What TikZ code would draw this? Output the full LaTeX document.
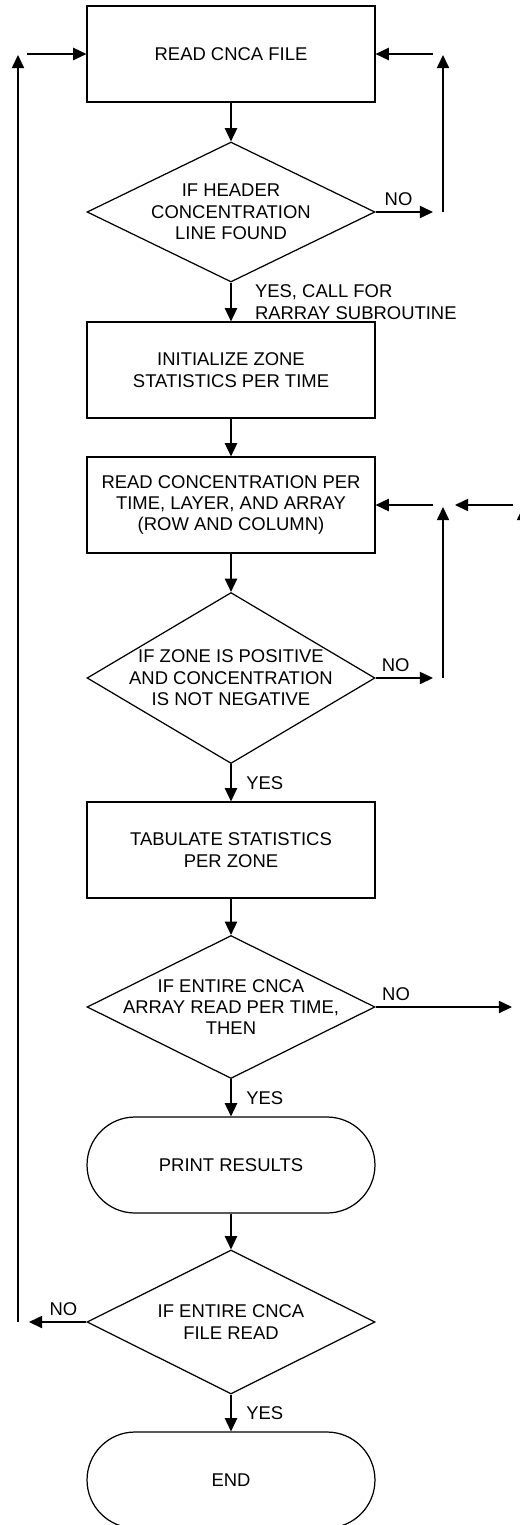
\documentclass[tikz,border=0pt]{standalone}
\usepackage{fontspec}
\setmainfont{Liberation Sans}
\usetikzlibrary{arrows.meta}
\usetikzlibrary{shapes.geometric}

\begin{document}
\begin{tikzpicture}[x=0.02cm,y=-0.02cm,line width=0.7pt,
  >={Triangle[length=7.5pt,width=7pt]},
  every node/.style={font=\fontsize{10.5}{12.2}\selectfont,align=center},
  procbox/.style={draw,rectangle,minimum width=5.76cm,minimum height=1.92cm,inner sep=0pt},
  termbox/.style={procbox,rounded corners=0.96cm},
  decision/.style={draw,diamond,minimum width=5.76cm,inner sep=0pt}]
\useasboundingbox (0,0) rectangle (520,1525);
\clip (0,0) rectangle (520,1525);

\node[procbox] (readfile) at (231,54) {READ CNCA FILE};
\node[decision,minimum height=2.8cm,label={center:{IF HEADER\\CONCENTRATION\\LINE FOUND}}] (header) at (231,212) {};
\node[procbox] (init) at (231,370) {INITIALIZE ZONE\\STATISTICS PER TIME};
\node[procbox] (readconc) at (231,505) {READ CONCENTRATION PER\\TIME, LAYER, AND ARRAY\\(ROW AND COLUMN)};
\node[decision,minimum height=3.42cm,label={center:{IF ZONE IS POSITIVE\\AND CONCENTRATION\\IS NOT NEGATIVE}}] (zone) at (231,678) {};
\node[procbox] (tabulate) at (231,850) {TABULATE STATISTICS\\PER ZONE};
\node[decision,minimum height=2.86cm,label={center:{IF ENTIRE CNCA\\ARRAY READ PER TIME,\\THEN}}] (arraydone) at (231,1007) {};
\node[termbox] (print) at (231,1165) {PRINT RESULTS};
\node[decision,minimum height=2.88cm,label={center:{IF ENTIRE CNCA\\FILE READ}}] (filedone) at (231,1322) {};
\node[termbox] (end) at (231,1480) {END};

% loose ends of the loops
\coordinate (no1) at (433,212);
\coordinate (up1a) at (443,212);
\coordinate (up1b) at (443,55);
\coordinate (back1) at (433,54);
\coordinate (no2) at (433,678);
\coordinate (up2a) at (443,678);
\coordinate (up2b) at (443,507);
\coordinate (back2) at (433,505);
\coordinate (back3a) at (513,505);
\coordinate (back3b) at (455,505);
\coordinate (up3a) at (523,1007);
\coordinate (up3b) at (523,507);
\coordinate (no3) at (512,1007);
\coordinate (no4) at (29,1322);
\coordinate (up4a) at (18,1322);
\coordinate (up4b) at (18,55);
\coordinate (back4) at (27,54);

\draw[->] (readfile) -- (header);
\draw[->] (header) -- (init) node[midway,right=10pt,align=left] {YES, CALL FOR\\RARRAY SUBROUTINE};
\draw[->] (init) -- (readconc);
\draw[->] (readconc) -- (zone);
\draw[->] (zone) -- (tabulate) node[midway,right=5pt] {YES};
\draw[->] (tabulate) -- (arraydone);
\draw[->] (arraydone) -- (print) node[midway,right=5pt] {YES};
\draw[->] (print) -- (filedone);
\draw[->] (filedone) -- (end) node[midway,right=5pt] {YES};

\draw[->] (header.east) -- (no1) node[pos=0.4,above] {NO};
\draw[->] (up1a) -- (up1b);
\draw[->] (back1) -- (readfile.east);
\draw[->] (zone.east) -- (no2) node[pos=0.35,above] {NO};
\draw[->] (up2a) -- (up2b);
\draw[->] (back2) -- (readconc.east);
\draw[->] (back3a) -- (back3b);
\draw[->] (up3a) -- (up3b);
\draw[->] (arraydone.east) -- (no3) node[pos=0.15,above] {NO};
\draw[->] (filedone.west) -- (no4) node[pos=0.4,above] {NO};
\draw[->] (up4a) -- (up4b);
\draw[->] (back4) -- (readfile.west);
\end{tikzpicture}
\end{document}
